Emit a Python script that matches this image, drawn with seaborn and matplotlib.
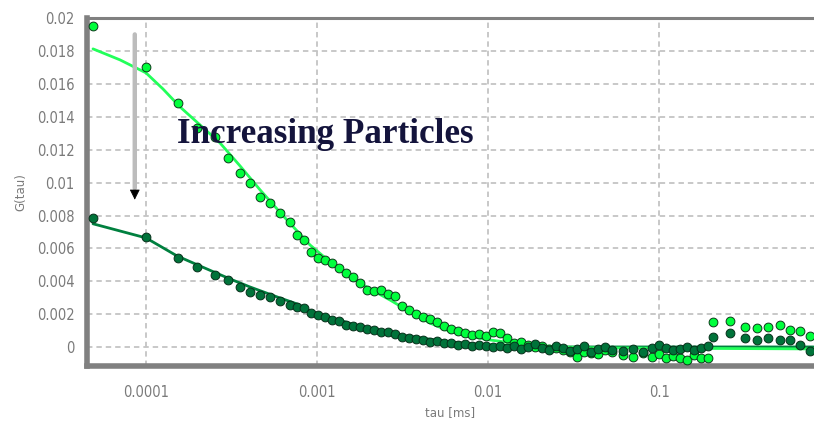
import numpy as np
import pandas as pd
import matplotlib
matplotlib.use("Agg")
import matplotlib.pyplot as plt
import seaborn as sns
from matplotlib.ticker import FixedLocator, FixedFormatter, NullFormatter

# ---------------- data ----------------
tau = [4.90e-5, 1.00e-4, 1.54e-4, 1.99e-4, 2.53e-4, 3.02e-4, 3.55e-4, 4.06e-4,
       4.65e-4, 5.31e-4, 6.08e-4, 6.95e-4, 7.64e-4, 8.39e-4, 9.22e-4, 1.01e-3,
       1.11e-3, 1.22e-3, 1.35e-3, 1.48e-3, 1.62e-3, 1.78e-3, 1.96e-3, 2.15e-3,
       2.37e-3, 2.60e-3, 2.86e-3, 3.14e-3, 3.45e-3, 3.79e-3, 4.17e-3, 4.58e-3,
       5.03e-3, 5.53e-3, 6.08e-3, 6.68e-3, 7.33e-3, 8.06e-3, 8.86e-3, 9.73e-3,
       1.07e-2, 1.17e-2, 1.29e-2, 1.42e-2, 1.56e-2, 1.71e-2, 1.88e-2, 2.07e-2,
       2.28e-2, 2.50e-2, 2.75e-2, 3.02e-2, 3.31e-2, 3.64e-2, 4.00e-2, 4.40e-2,
       4.83e-2, 5.31e-2, 6.15e-2, 7.05e-2, 8.06e-2, 9.10e-2, 0.100, 0.110,
       0.121, 0.133, 0.146, 0.160, 0.176, 0.194, 0.207, 0.260, 0.318, 0.374,
       0.434, 0.510, 0.583, 0.669, 0.764]

g_bright = [0.01955, 0.01705, 0.01486, 0.01334, 0.01279, 0.01151, 0.01060, 0.00999,
            0.00914, 0.00877, 0.00816, 0.00761, 0.00682, 0.00652, 0.00579, 0.00542,
            0.00530, 0.00512, 0.00481, 0.00451, 0.00426, 0.00390, 0.00347, 0.00341,
            0.00347, 0.00323, 0.00311, 0.00250, 0.00225, 0.00201, 0.00183, 0.00171,
            0.00152, 0.00128, 0.00110, 0.00097, 0.00085, 0.00073, 0.00079, 0.00067,
            0.00091, 0.00085, 0.00055, 0.00024, 0.00030, 0.00012, 0.00000, 0.00006,
            -0.00012, -0.00006, -0.00018, -0.00030, -0.00061, -0.00030, -0.00037, -0.00043,
            -0.00018, -0.00030, -0.00049, -0.00061, -0.00037, -0.00061, -0.00043, -0.00067,
            -0.00055, -0.00067, -0.00079, -0.00049, -0.00067, -0.00067, 0.00152, 0.00158,
            0.00122, 0.00116, 0.00122, 0.00134, 0.00104, 0.00097, 0.00067]

g_dark = [0.00786, 0.00670, 0.00542, 0.00487, 0.00438, 0.00408, 0.00365, 0.00335,
          0.00317, 0.00305, 0.00280, 0.00256, 0.00244, 0.00238, 0.00207, 0.00195,
          0.00183, 0.00164, 0.00158, 0.00134, 0.00128, 0.00122, 0.00110, 0.00104,
          0.00091, 0.00091, 0.00079, 0.00061, 0.00055, 0.00049, 0.00043, 0.00030,
          0.00037, 0.00024, 0.00024, 0.00012, 0.00018, 0.00006, 0.00012, 0.00006,
          0.00000, 0.00006, -0.00006, 0.00006, -0.00012, 0.00000, 0.00018, -0.00006,
          -0.00018, 0.00006, -0.00006, -0.00024, -0.00012, 0.00006, -0.00030, -0.00012,
          0.00000, -0.00018, -0.00024, -0.00012, -0.00030, -0.00006, 0.00012, -0.00006,
          -0.00018, -0.00012, 0.00000, -0.00018, -0.00006, 0.00006, 0.00061, 0.00085,
          0.00055, 0.00043, 0.00055, 0.00043, 0.00043, 0.00012, -0.00024]

fit_bright_tau = [4.9e-5, 7.05e-5, 1.0e-4, 1.257e-4, 1.58e-4, 2.07e-4, 2.71e-4,
                  3.55e-4, 4.65e-4, 6.5e-4, 9.1e-4, 1.19e-3, 1.56e-3, 2.04e-3,
                  2.67e-3, 3.5e-3, 4.57e-3, 5.68e-3, 7.1e-3, 1.02e-2, 1.54e-2,
                  2.64e-2, 4.52e-2, 0.8]
fit_bright_g = [0.01815, 0.01748, 0.01669, 0.01571, 0.01462, 0.01352, 0.01242,
                0.01102, 0.00956, 0.00786, 0.00621, 0.00518, 0.00426, 0.00353,
                0.00286, 0.00213, 0.00146, 0.00104, 0.00073, 0.00043, 0.00018,
                0.0, -0.00006, -0.00012]

fit_dark_tau = [4.9e-5, 1.0e-4, 1.52e-4, 2.07e-4, 3.1e-4, 4.06e-4, 6.08e-4, 7.64e-4,
                1.01e-3, 1.36e-3, 1.78e-3, 3.05e-3, 6.0e-3, 1.02e-2, 2.64e-2, 0.8]
fit_dark_g = [0.0075, 0.00664, 0.00554, 0.00493, 0.00414, 0.00365, 0.00298, 0.00262,
              0.00195, 0.00164, 0.00122, 0.00073, 0.0003, 0.00012, 0.0, 0.0]

y_ticks = [0, 0.002, 0.004, 0.006, 0.008, 0.01, 0.012, 0.014, 0.016, 0.018, 0.02]
y_tick_labels = ["0", "0.002", "0.004", "0.006", "0.008", "0.01", "0.012",
                 "0.014", "0.016", "0.018", "0.02"]
x_ticks = [1e-4, 1e-3, 1e-2, 1e-1]
x_tick_labels = ["0.0001", "0.001", "0.01", "0.1"]
x_minor = [3.3e-5, 5.6e-5, 7.9e-5, 3.3e-4, 5.6e-4, 7.9e-4, 3.3e-3, 5.6e-3, 7.9e-3,
           3.3e-2, 5.6e-2, 7.9e-2, 3.3e-1, 5.6e-1, 7.9e-1]

annotation = "Increasing Particles"
x_label = "tau [ms]"
y_label = "G(tau)"

# ---------------- figure ----------------
sns.set_style("white")
plt.rcParams['font.family'] = ['DejaVu Sans']

W, H = 814, 422
fig = plt.figure(figsize=(W / 100, H / 100), dpi=100)
ax = fig.add_axes([87 / W, (H - 366) / H, (W - 87) / W, (366 - 18.5) / H])

ax.set_xscale("log")
ax.set_xlim(4.52e-5, 0.805)
ax.set_ylim(-0.00116, 0.02)

# grid
ax.grid(True, which="major", color="#c4c4c4", linestyle=(0, (3, 2.2)), linewidth=1.3)
ax.set_axisbelow(True)

pts = pd.DataFrame({"tau": tau, "bright": g_bright, "dark": g_dark})
fb = pd.DataFrame({"tau": fit_bright_tau, "g": fit_bright_g})
fd = pd.DataFrame({"tau": fit_dark_tau, "g": fit_dark_g})

sns.lineplot(data=fd, x="tau", y="g", ax=ax, color="#00803f", linewidth=2.0, zorder=3)
sns.lineplot(data=fb, x="tau", y="g", ax=ax, color="#22ff5a", linewidth=2.0, zorder=3)

sns.scatterplot(data=pts, x="tau", y="bright", ax=ax, color="#00ff3c", s=40,
                marker="o", edgecolor="#0b3a1a", linewidth=0.7, zorder=4)
sns.scatterplot(data=pts, x="tau", y="dark", ax=ax, color="#00733a", s=40,
                marker="o", edgecolor="#06301a", linewidth=0.7, zorder=5)

# spines
ax.spines["right"].set_visible(False)
ax.spines["left"].set_color("#808080")
ax.spines["left"].set_linewidth(4)
ax.spines["bottom"].set_color("#808080")
ax.spines["bottom"].set_linewidth(4)
ax.spines["top"].set_color("#808080")
ax.spines["top"].set_linewidth(2.2)

# ticks
ax.yaxis.set_major_locator(FixedLocator(y_ticks))
ax.yaxis.set_major_formatter(FixedFormatter(y_tick_labels))
ax.xaxis.set_major_locator(FixedLocator(x_ticks))
ax.xaxis.set_major_formatter(FixedFormatter(x_tick_labels))
ax.xaxis.set_minor_locator(FixedLocator(x_minor))
ax.xaxis.set_minor_formatter(NullFormatter())
ax.yaxis.set_minor_locator(FixedLocator([i * 0.0005 - 0.001 for i in range(43)]))

ax.tick_params(axis="both", which="major", colors="#c4c4c4", labelcolor="#7a7a7a",
               labelsize=10.5, direction="out")
ax.tick_params(axis="y", which="major", length=4, width=1.3, pad=5)
ax.tick_params(axis="x", which="major", length=7, width=1.3, pad=7)
ax.tick_params(axis="both", which="minor", direction="in", length=3, width=1,
               colors="#5a5a5a")
for lab in ax.get_xticklabels() + ax.get_yticklabels():
    lab.set_fontstretch("condensed")

ax.set_xlabel(x_label, fontsize=8.5, color="#7a7a7a", labelpad=4)
ax.set_ylabel(y_label, fontsize=8.5, color="#7a7a7a", labelpad=7)

# annotation arrow and text
ax.annotate("", xy=(8.6e-5, 0.0095), xytext=(8.6e-5, 0.0192),
            arrowprops=dict(arrowstyle="-", color="#bcbcbc", lw=3.2))
ax.annotate("", xy=(8.6e-5, 0.0088), xytext=(8.6e-5, 0.0097),
            arrowprops=dict(arrowstyle="-|>", color="black", lw=0.5,
                            mutation_scale=16))
fig.text(177 / W, (H - 143) / H, annotation, family="Liberation Serif",
         weight="bold", fontsize=25.3, color="#14143c", ha="left", va="baseline")

fig.savefig("out.png", dpi=100)
